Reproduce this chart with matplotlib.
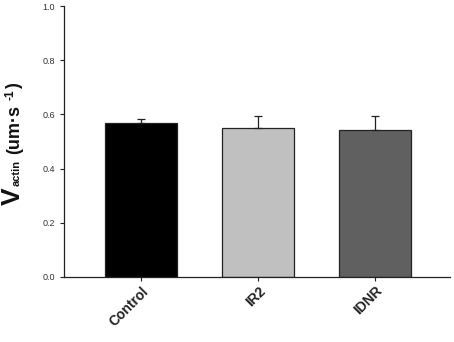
import matplotlib
matplotlib.use("Agg")
import matplotlib.pyplot as plt

categories = ["Control", "IR2", "IDNR"]
values = [0.569, 0.551, 0.542]
errors = [0.014, 0.044, 0.053]
colors = ["#000000", "#c0c0c0", "#606060"]

plt.rcParams['font.family'] = ['Liberation Sans', 'DejaVu Sans']
fig = plt.figure(figsize=(4.54, 3.42), dpi=100)
ax = fig.add_axes([64/454, 1-277/342, (450-64)/454, (277-6)/342])
x = list(range(len(categories)))
ax.bar(x, values, width=0.615, color=colors, edgecolor="#222222", linewidth=0.9, zorder=2)
ax.errorbar(x, values, yerr=[[0]*3, errors], fmt="none", ecolor="#222222",
            elinewidth=0.9, capsize=3, capthick=0.9, zorder=3)
ax.set_xlim(-0.66, 2.64)
ax.set_ylim(0, 1.0)
ax.set_yticks([0, 0.2, 0.4, 0.6, 0.8, 1.0])
ax.set_yticklabels(["0.0", "0.2", "0.4", "0.6", "0.8", "1.0"], fontsize=6.5, color="#333333")
ax.set_xticks(x)
ax.set_xticklabels(categories, rotation=45, ha="right", rotation_mode="anchor",
                   fontsize=10, fontweight="bold", color="#222222")
for s in ["top", "right"]:
    ax.spines[s].set_visible(False)
for s in ["left", "bottom"]:
    ax.spines[s].set_linewidth(0.9)
    ax.spines[s].set_color("#222222")
ax.tick_params(axis="both", direction="out", length=3, width=0.8, color="#222222")
ax.tick_params(axis="x", pad=2)

fig.text(13/454, 1-196/342, "V", rotation=90, fontsize=19, fontweight="bold",
         ha="center", va="center", color="#111111")
fig.text(17/454, 1-172.5/342, "actin", rotation=90, fontsize=8, fontweight="bold",
         ha="center", va="center", color="#111111")
fig.text(15/454, 1-154/342, "(um·s", rotation=90, fontsize=13, fontweight="bold",
         ha="center", va="bottom", color="#111111")
fig.text(10.5/454, 1-100/342, "-1", rotation=90, fontsize=8.5, fontweight="bold",
         ha="center", va="bottom", color="#111111")
fig.text(15/454, 1-89/342, ")", rotation=90, fontsize=13, fontweight="bold",
         ha="center", va="bottom", color="#111111")

fig.savefig("out.png", dpi=100)
